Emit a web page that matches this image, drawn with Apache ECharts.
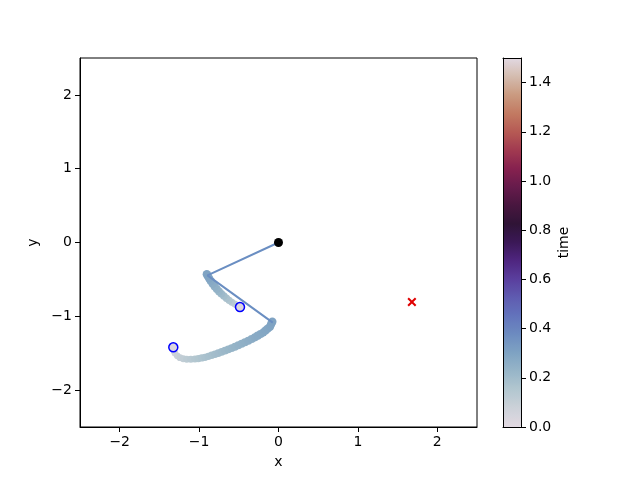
<!DOCTYPE html>
<html>
<head>
<meta charset="utf-8">
<script src="https://cdn.jsdelivr.net/npm/echarts@6/dist/echarts.min.js"></script>
<style>
html, body { margin: 0; background: #fff; }
#chart { width: 640px; height: 480px; }
</style>
</head>
<body>
<div id="chart"></div>
<script>
const xTicks = [-2, -1, 0, 1, 2];
const yTicks = [-2, -1, 0, 1, 2];
const timeTicks = [0, 0.2, 0.4, 0.6, 0.8, 1.0, 1.2, 1.4];

// [x, y, time]
const trail1 = [
  [-0.4848, -0.8746, 0], [-0.5000, -0.8660, 0.050], [-0.5225, -0.8526, 0.080],
  [-0.5519, -0.8339, 0.108], [-0.5878, -0.8090, 0.135], [-0.6225, -0.7826, 0.157],
  [-0.6561, -0.7547, 0.176], [-0.6884, -0.7254, 0.194], [-0.7193, -0.6947, 0.210],
  [-0.7490, -0.6626, 0.225], [-0.7771, -0.6293, 0.239], [-0.8039, -0.5948, 0.252],
  [-0.8290, -0.5592, 0.265], [-0.8526, -0.5225, 0.277], [-0.8746, -0.4848, 0.288],
  [-0.8910, -0.4540, 0.295], [-0.9026, -0.4305, 0.300]
];
const trail2 = [
  [-1.325, -1.420, 0], [-1.320, -1.447, 0.039], [-1.313, -1.474, 0.056],
  [-1.304, -1.501, 0.069], [-1.275, -1.535, 0.086], [-1.241, -1.561, 0.100],
  [-1.200, -1.576, 0.111], [-1.156, -1.583, 0.123], [-1.104, -1.583, 0.136],
  [-1.052, -1.579, 0.147], [-1.010, -1.572, 0.156], [-0.968, -1.564, 0.164],
  [-0.926, -1.556, 0.172], [-0.884, -1.543, 0.180], [-0.842, -1.529, 0.187],
  [-0.800, -1.515, 0.194], [-0.758, -1.499, 0.201], [-0.716, -1.483, 0.208],
  [-0.674, -1.466, 0.214], [-0.632, -1.448, 0.221], [-0.590, -1.430, 0.227],
  [-0.548, -1.412, 0.233], [-0.506, -1.392, 0.239], [-0.464, -1.372, 0.245],
  [-0.422, -1.352, 0.250], [-0.380, -1.330, 0.256], [-0.338, -1.308, 0.261],
  [-0.296, -1.285, 0.267], [-0.261, -1.262, 0.272], [-0.226, -1.240, 0.277],
  [-0.191, -1.217, 0.281], [-0.163, -1.192, 0.285], [-0.135, -1.166, 0.289],
  [-0.107, -1.141, 0.293], [-0.093, -1.107, 0.296], [-0.078, -1.073, 0.300]
];
const arms = [[0, 0], [-0.895, -0.445], [-0.072, -1.085]];
const pivot = [[0, 0]];
const startPos = [[-0.485, -0.875], [-1.325, -1.420]];
const target = [[1.68, -0.806]];

const twilight = [
  '#e2d9e2', '#cdd2d9', '#b3c7d0', '#98b6c8', '#7fa3c3', '#6d8cc0', '#6374bc',
  '#5f5cb1', '#5a3f9e', '#4f2680', '#3b1857', '#2f1436', '#48163f', '#661b4b',
  '#86214f', '#a13a50', '#b65a54', '#c27a62', '#ca9a80', '#d4bcaf', '#e2d9e2'
];

const font = 'DejaVu Sans';
const fmt = v => String(v).replace('-', '\u2212');

const chart = echarts.init(document.getElementById('chart'));

const border = () => ({
  show: true, onZero: false, lineStyle: { color: '#000', width: 1 }
});

chart.setOption({
  animation: false,
  textStyle: { fontFamily: font },
  grid: [
    { left: 80, top: 58, width: 397, height: 369, show: true, borderColor: '#000', borderWidth: 1 },
    { left: 503, top: 58, width: 18, height: 369 }
  ],
  xAxis: [
    {
      type: 'value', gridIndex: 0, min: -2.5, max: 2.5,
      name: 'x', nameLocation: 'middle', nameGap: 28,
      nameTextStyle: { color: '#000', fontSize: 14, fontFamily: font },
      axisLine: border(), splitLine: { show: false },
      axisTick: { customValues: xTicks, length: 5, lineStyle: { color: '#000' } },
      axisLabel: { customValues: xTicks, color: '#000', fontSize: 14, margin: 8, formatter: fmt, fontFamily: font }
    },
    {
      type: 'value', gridIndex: 1, min: 0, max: 1, position: 'bottom', z: 10,
      axisLine: border(), axisTick: { show: false }, axisLabel: { show: false }, splitLine: { show: false }
    },
    {
      type: 'value', gridIndex: 1, min: 0, max: 1, position: 'top', z: 10,
      axisLine: border(), axisTick: { show: false }, axisLabel: { show: false }, splitLine: { show: false }
    }
  ],
  yAxis: [
    {
      type: 'value', gridIndex: 0, min: -2.5, max: 2.5,
      name: 'y', nameLocation: 'middle', nameGap: 34,
      nameTextStyle: { color: '#000', fontSize: 14, fontFamily: font },
      axisLine: border(), splitLine: { show: false },
      axisTick: { customValues: yTicks, length: 5, lineStyle: { color: '#000' } },
      axisLabel: { customValues: yTicks, color: '#000', fontSize: 14, margin: 8, formatter: fmt, fontFamily: font }
    },
    {
      type: 'value', gridIndex: 1, min: 0, max: 1.5, position: 'right', z: 10,
      name: 'time', nameLocation: 'middle', nameGap: 36, nameRotate: 90,
      nameTextStyle: { color: '#000', fontSize: 14, fontFamily: font },
      axisLine: border(), splitLine: { show: false },
      axisTick: { customValues: timeTicks, length: 5, lineStyle: { color: '#000' } },
      axisLabel: { customValues: timeTicks, color: '#000', fontSize: 14, margin: 8, fontFamily: font,
        formatter: v => v.toFixed(1) }
    },
    {
      type: 'value', gridIndex: 1, min: 0, max: 1.5, position: 'left', z: 10,
      axisLine: border(), axisTick: { show: false }, axisLabel: { show: false }, splitLine: { show: false }
    }
  ],
  visualMap: {
    type: 'continuous', min: 0, max: 1.5, dimension: 2, seriesIndex: [0, 1],
    inRange: { color: twilight, opacity: 1 },
    left: 503, top: 58, itemWidth: 18, itemHeight: 369, padding: 0,
    calculable: false, hoverLink: false, text: null, textGap: 0
  },
  series: [
    {
      type: 'scatter', data: trail1, z: 2, symbolSize: v => 6 + v[2] * 8,
      itemStyle: { opacity: 1 }
    },
    {
      type: 'scatter', data: trail2, z: 2, symbolSize: v => 6 + v[2] * 8,
      itemStyle: { opacity: 1 }
    },
    {
      type: 'line', data: arms, z: 3, symbol: 'none',
      lineStyle: { color: '#6a8ec2', width: 2, opacity: 1 }
    },
    {
      type: 'scatter', data: pivot, z: 4, symbolSize: 9,
      itemStyle: { color: '#000', opacity: 1 }
    },
    {
      type: 'scatter', data: startPos, z: 4, symbolSize: 9,
      itemStyle: { color: '#dcd6df', borderColor: '#0000ff', borderWidth: 1.5, opacity: 1 }
    },
    {
      type: 'scatter', data: target, z: 4, symbolSize: 9,
      symbol: 'path://M0,1.6L1.6,0L5,3.4L8.4,0L10,1.6L6.6,5L10,8.4L8.4,10L5,6.6L1.6,10L0,8.4L3.4,5Z',
      itemStyle: { color: '#e00000', opacity: 1 }
    }
  ]
});
</script>
</body>
</html>
